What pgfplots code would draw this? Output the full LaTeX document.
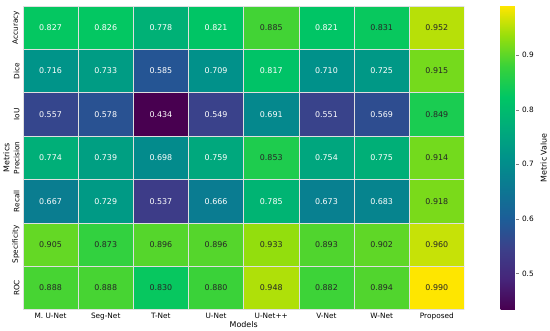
\documentclass[border=0pt]{standalone}
\usepackage{pgfplots}
\pgfplotsset{compat=1.18}
\usepackage{pgfplotstable}
\usepackage{fontspec}
\setmainfont{DejaVu Sans}
\definecolor{darktxt}{gray}{0.15}
\pgfplotstableread{
x y v tc
0 0 0.827 0
1 0 0.826 0
2 0 0.778 0
3 0 0.821 0
4 0 0.885 1
5 0 0.821 0
6 0 0.831 1
7 0 0.952 1
0 1 0.716 0
1 1 0.733 0
2 1 0.585 0
3 1 0.709 0
4 1 0.817 0
5 1 0.710 0
6 1 0.725 0
7 1 0.915 1
0 2 0.557 0
1 2 0.578 0
2 2 0.434 0
3 2 0.549 0
4 2 0.691 0
5 2 0.551 0
6 2 0.569 0
7 2 0.849 1
0 3 0.774 0
1 3 0.739 0
2 3 0.698 0
3 3 0.759 0
4 3 0.853 1
5 3 0.754 0
6 3 0.775 0
7 3 0.914 1
0 4 0.667 0
1 4 0.729 0
2 4 0.537 0
3 4 0.666 0
4 4 0.785 0
5 4 0.673 0
6 4 0.683 0
7 4 0.918 1
0 5 0.905 1
1 5 0.873 1
2 5 0.896 1
3 5 0.896 1
4 5 0.933 1
5 5 0.893 1
6 5 0.902 1
7 5 0.960 1
0 6 0.888 1
1 6 0.888 1
2 6 0.830 1
3 6 0.880 1
4 6 0.948 1
5 6 0.882 1
6 6 0.894 1
7 6 0.990 1
}\datatable
\pgfplotsset{
  annot/.style={draw=none, mark=none, point meta=explicit,
    nodes near coords={\pgfmathprintnumber[fixed,fixed zerofill,precision=3]{\pgfplotspointmeta}},
    every node near coord/.append style={anchor=center, text=#1, font=\fontsize{8}{9}\selectfont}},
}
\begin{document}
\begin{tikzpicture}
\begin{axis}[
  scale only axis, width=445pt, height=306pt,
  xmin=-0.5, xmax=7.5, ymin=-0.5, ymax=6.5, y dir=reverse,
  xtick={0,...,7},
  xticklabels={M. U-Net,Seg-Net,T-Net,U-Net,U-Net++,V-Net,W-Net,Proposed},
  ytick={0,...,6},
  yticklabels={Accuracy,Dice,IoU,Precision,Recall,Specificity,ROC},
  yticklabel style={rotate=90, anchor=south, font=\fontsize{7.4}{8}\selectfont},
  xticklabel style={font=\fontsize{7.4}{8}\selectfont},
  major tick length=0pt,
  axis line style={draw=none},
  xlabel={Models}, ylabel={Metrics},
  xlabel style={font=\fontsize{8}{9}\selectfont, yshift=6pt},
  ylabel style={font=\fontsize{8}{9}\selectfont, yshift=-4pt},
  colormap={satviridis}{
    rgb255=(72,0,80) rgb255=(70,37,122) rgb255=(60,64,138) rgb255=(28,94,152)
    rgb255=(12,120,146) rgb255=(0,146,138) rgb255=(0,172,122) rgb255=(0,198,100)
    rgb255=(56,210,58) rgb255=(150,222,12) rgb255=(255,230,0)},
  point meta min=0.434, point meta max=0.990,
  /pgf/number format/assume math mode=true,
  colorbar,
  colorbar style={
    at={(parent axis.north east)}, anchor=north west, xshift=28pt,
    width=15pt,
    ytick={0.5,0.6,0.7,0.8,0.9},
    yticklabel style={font=\fontsize{7.4}{8}\selectfont,
      /pgf/number format/fixed, /pgf/number format/precision=1,
      /pgf/number format/assume math mode=true},
    ylabel={Metric Value},
    ylabel style={font=\fontsize{8}{9}\selectfont},
    axis line style={draw=none},
    tick align=outside, major tick length=3pt,
    ytick pos=right,
  },
]
\addplot[matrix plot*, mesh/cols=8, point meta=explicit, draw=white!75!gray, line width=0.4pt]
  table[x=x, y=y, meta=v] {\datatable};
\addplot[annot=white, restrict expr to domain={\thisrow{tc}}{-0.5:0.5}]
  table[x=x, y=y, meta=v] {\datatable};
\addplot[annot=darktxt, restrict expr to domain={\thisrow{tc}}{0.5:1.5}]
  table[x=x, y=y, meta=v] {\datatable};
\end{axis}
\path (current axis.north) ++(0,6pt);
\end{tikzpicture}
\end{document}
